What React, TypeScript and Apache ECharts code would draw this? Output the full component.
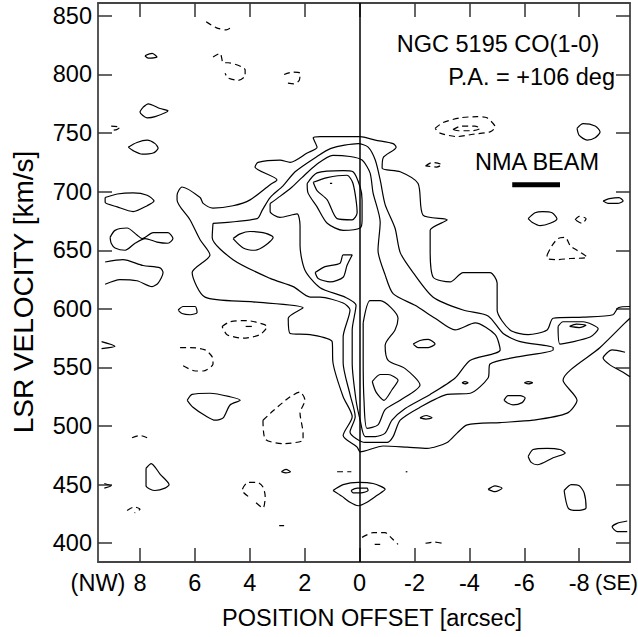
import React, { useEffect, useRef } from "react";
import * as echarts from "echarts";

// ---- axis ranges and ticks ----
const X_MIN = -9.85;
const X_MAX = 9.53;
const Y_MIN = 384;
const Y_MAX = 861;
const xTicks = [8, 6, 4, 2, 0, -2, -4, -6, -8];
const yTicks = [400, 450, 500, 550, 600, 650, 700, 750, 800, 850];

// ---- solid contours: [offset arcsec, velocity km/s] ----
const level1 = [[-9.85,592],[-9.67,588],[-8.76,567],[-7.41,539],[-7.92,522],[-7.56,511],[-6.32,505],[-5.12,503],[-3.92,501],[-3.55,494],[-3.19,486],[-2.46,481],[-1.73,482],[-0.86,483],[-0.02,478],[0.09,482],[0.60,492],[0.27,508],[0.60,525],[0.97,554],[1.00,572],[1.80,578],[2.53,579],[2.60,592],[2.06,601],[3.88,606],[5.63,610],[6.10,631],[5.45,646],[5.81,659],[6.18,676],[6.65,693],[6.65,697],[6.47,704],[5.81,695],[5.70,690],[5.34,686],[4.61,688],[3.99,693],[3.26,706],[3.01,710],[3.81,721],[3.70,725],[2.90,727],[2.53,725],[1.91,733],[1.55,738],[1.69,746],[1.44,747],[-0.02,747],[-0.57,744],[-1.22,741],[-1.33,738],[-0.86,729],[-0.82,720],[-1.48,717],[-2.13,707],[-2.31,680],[-3.19,676],[-2.57,667],[-2.57,650],[-2.68,627],[-3.30,623],[-3.77,631],[-4.75,631],[-5.01,622],[-5.01,599],[-5.48,582],[-6.14,578],[-6.83,582],[-7.05,592],[-8.14,593],[-9.23,595],[-9.42,601],[-9.85,602]];
const level2 = [[5.34,673],[3.73,677],[3.55,684],[3.26,695],[2.79,705],[2.35,717],[1.62,729],[1.04,737],[0.05,741],[-0.31,738],[-0.57,727],[-0.75,710],[-0.93,689],[-1.29,669],[-1.48,648],[-1.95,631],[-2.68,610],[-3.77,599],[-4.68,594],[-5.23,579],[-5.85,572],[-7.05,567],[-7.05,565],[-5.74,559],[-4.75,553],[-4.68,541],[-4.03,528],[-3.19,527],[-2.20,516],[-1.48,505],[-1.22,491],[-1.00,486],[-0.20,486],[0.35,495],[0.16,508],[0.35,527],[0.60,554],[0.60,576],[0.35,599],[0.60,605],[1.44,610],[1.80,610],[2.42,619],[3.26,626],[4.61,642],[5.37,661],[5.34,673]];
const level3 = [[3.26,690],[2.90,696],[2.46,704],[2.10,712],[1.58,723],[0.97,731],[0.35,730],[-0.09,727],[-0.38,716],[-0.49,699],[-0.75,674],[-0.67,650],[-0.93,629],[-1.22,613],[-2.02,603],[-2.75,592],[-3.48,582],[-4.21,588],[-4.94,578],[-5.12,565],[-4.02,556],[-3.48,541],[-2.57,527],[-1.66,515],[-1.18,505],[-0.93,494],[-0.57,491],[-0.20,491],[-0.02,505],[0.13,522],[0.27,554],[0.27,582],[0.13,603],[0.53,610],[1.44,618],[1.99,633],[2.17,654],[2.17,671],[2.28,681],[2.90,678],[3.26,683],[3.26,690]];
const level4 = [[1.91,707],[1.55,716],[0.60,718],[0.24,717],[-0.02,704],[-0.09,693],[-0.09,676],[-0.02,669],[0.60,667],[1.18,673],[1.55,687],[1.88,699],[1.91,707]];
const level5 = [[1.69,708],[1.18,712],[0.46,714],[0.24,707],[0.09,682],[0.27,676],[0.82,677],[1.18,693],[1.55,701],[1.69,708]];
const peakDot = [[1.08,707],[1.0,707]];
const band4 = [[-0.13,588],[-0.38,607],[-0.75,607],[-1.40,592],[-1.29,582],[-0.93,569],[-1.04,556],[-1.66,549],[-2.20,535],[-1.48,522],[-0.93,514],[-0.67,501],[-0.27,498],[-0.16,522],[-0.13,556],[-0.13,588]];
const band5 = [[-0.46,538],[-0.75,544],[-1.04,544],[-1.40,539],[-1.18,531],[-0.89,522],[-0.60,529],[-0.46,538]];
const armBlob = [[-1.95,570],[-2.20,573],[-2.50,574],[-2.75,570],[-2.50,567],[-2.13,567],[-1.95,570]];
const blob680 = [[4.61,660],[4.35,664],[3.99,666],[3.52,665],[3.15,661],[3.44,654],[3.81,650],[4.24,652],[4.61,660]];
const blob635 = [[1.62,631],[1.26,636],[0.71,639],[0.60,646],[0.27,646],[0.46,637],[0.60,627],[1.07,623],[1.51,626],[1.62,631]];
const blobA = [[7.82,816],[7.56,818],[7.38,815],[7.70,814],[7.82,816]];
const blobB = [[7.89,772],[7.70,775],[7.27,771],[6.98,769],[7.45,764],[7.74,763],[8.0,768],[7.89,772]];
const blobC = [[8.43,738],[8.11,742],[7.74,744],[7.45,741],[7.34,737],[7.52,733],[7.92,732],[8.25,735],[8.43,738]];
const blobD = [[9.27,695],[8.83,698],[8.25,699],[7.74,697],[7.49,692],[7.74,688],[8.25,683],[8.83,687],[9.27,691],[9.27,695]];
const blobE = [[9.09,661],[8.91,667],[8.47,669],[8.11,663],[7.92,660],[7.52,665],[6.98,665],[6.80,660],[6.98,656],[7.38,657],[7.81,660],[8.18,656],[8.54,650],[8.91,652],[9.05,656],[9.09,661]];
const blobF = [[9.27,640],[8.62,642],[7.89,637],[7.27,635],[7.16,631],[7.34,622],[7.56,619],[8.11,624],[8.73,625],[9.27,621]];
const blobG = [[6.61,599],[6.43,602],[5.99,602],[5.92,597],[6.17,595],[6.47,596],[6.61,599]];
const blobH = [[9.40,572],[8.91,568],[9.40,566]];
const blobI = [[6.28,522],[6.10,527],[5.45,528],[4.72,525],[4.35,522],[4.72,518],[4.97,507],[5.26,505],[5.63,509],[6.07,516],[6.28,522]];
const blobJ = [[7.78,464],[7.59,468],[7.27,459],[6.94,450],[7.09,447],[7.45,445],[7.78,449],[7.78,464]];
const blobK = [[2.85,461],[2.68,463],[2.52,461],[2.68,460],[2.85,461]];
const eyeOuter = [[0.97,445],[0.60,450],[0.05,452],[-0.49,451],[-0.93,446],[-0.64,441],[-0.27,435],[0.05,432],[0.35,435],[0.64,440],[0.97,445]];
const eyeInner = [[0.31,445],[0.09,447],[-0.27,447],[-0.31,445],[-0.05,443],[0.24,443],[0.31,445]];
const blobL = [[-5.26,522],[-5.41,526],[-5.85,526],[-6.03,524],[-5.92,520],[-5.59,518],[-5.37,520],[-5.26,522]];
const blobM = [[-2.20,507],[-2.42,509],[-2.64,507],[-2.42,506],[-2.20,507]];
const blobN = [[-3.73,537],[-3.84,538],[-3.95,537],[-3.84,536],[-3.73,537]];
const blobO = [[-6.0,537],[-6.15,538],[-6.3,537],[-6.15,536],[-6.0,537]];
const blobP = [[-6.14,474],[-6.32,480],[-6.83,481],[-7.30,480],[-7.49,477],[-7.05,473],[-6.47,467],[-6.25,469],[-6.14,474]];
const blobQ = [[-7.45,445],[-7.71,450],[-8.0,449],[-8.18,443],[-8.25,430],[-7.92,428],[-7.60,430],[-7.45,445]];
const blobR = [[-4.68,446],[-4.93,449],[-5.19,447],[-4.93,444],[-4.68,446]];
const blobS = [[-9.75,419],[-9.38,417],[-9.20,414],[-9.38,410],[-9.75,410]];
const blobT = [[-6.14,677],[-6.39,682],[-6.68,683],[-7.01,682],[-7.19,677],[-6.94,673],[-6.58,671],[-6.28,674],[-6.14,677]];
const blobU = [[-8.87,692],[-9.1,694],[-9.45,695],[-9.60,692],[-9.4,690],[-9.05,690],[-8.87,692]];
const blobV = [[-7.23,585],[-7.41,589],[-8.14,589],[-8.69,583],[-8.40,576],[-7.30,570],[-7.23,585]];
const blobW = [[-7.65,585],[-7.9,587],[-8.25,586],[-8.0,584],[-7.65,585]];
const blobX = [[-9.67,563],[-9.20,565],[-8.87,558],[-9.13,552],[-9.60,546],[-9.85,542]];
const blobY = [[-7.92,754],[-8.14,758],[-8.58,756],[-8.76,751],[-8.58,746],[-8.29,744],[-8.0,748],[-7.92,754]];
const blobZ = [[9.3,451],[9.05,449],[9.3,447]];
const dotA = [[-1.68,461],[-1.74,461]];

// ---- dashed (negative) contours ----
const neg1 = [[-2.75,754],[-3.04,759],[-3.66,763],[-4.28,764],[-4.64,763],[-4.94,755],[-4.75,751],[-4.13,749],[-3.55,747],[-2.93,750],[-2.75,754]];
const neg1b = [[-3.4,753],[-3.7,756],[-4.2,756],[-4.4,754],[-4.1,752],[-3.6,752],[-3.4,753]];
const neg2 = [[-2.4,722],[-2.65,725],[-3.0,723],[-2.8,721],[-2.4,722]];
const neg3 = [[-7.85,676],[-8.0,679],[-8.25,677],[-8.1,673],[-7.85,676]];
const neg4 = [[-6.83,646],[-7.01,654],[-7.23,660],[-7.49,661],[-7.67,654],[-7.92,650],[-8.29,644],[-7.67,643],[-7.19,642],[-6.83,643],[-6.83,646]];
const neg5 = [[5.01,585],[4.72,589],[4.10,590],[3.52,587],[3.37,585],[3.63,578],[4.24,575],[4.83,578],[5.01,585]];
const neg5b = [[4.15,585],[3.9,585]];
const neg6 = [[6.54,567],[6.17,567],[5.63,565],[5.37,559],[5.34,553],[5.70,547],[5.99,547],[6.47,552]];
const neg7 = [[3.52,505],[3.15,513],[2.53,525],[2.17,529],[1.99,522],[2.17,511],[2.06,494],[2.06,488],[2.79,485],[3.44,489],[3.52,505]];
const neg8 = [[4.06,440],[4.28,445],[4.06,452],[3.73,452],[3.52,448],[3.44,440],[3.52,430],[3.84,436]];
const neg9 = [[8.29,490],[8.0,492],[7.74,490]];
const neg10 = [[8.47,428],[8.2,431],[8.0,429],[8.2,426]];
const neg11 = [[9.05,756],[8.73,755],[8.85,753],[9.1,752]];
const neg12 = [[5.59,845],[5.23,840],[4.86,838],[4.68,840]];
const neg13 = [[5.34,815],[5.08,818],[4.97,810],[4.79,810],[4.17,804],[4.17,799],[4.42,795],[4.79,797],[4.90,801]];
const neg14 = [[2.75,800],[2.46,802],[2.17,801],[2.2,795],[2.4,792],[2.7,793]];
const neg15 = [[-0.09,405],[-0.49,409],[-0.93,409],[-1.18,404],[-1.40,399]];
const neg15b = [[-0.55,399],[-0.75,399]];
const neg16 = [[-2.4,400],[-2.7,401],[-3.0,400]];
const neg17 = [[2.93,415],[2.75,415]];
const neg18 = [[0.82,461],[0.30,461]];

const solidContours = [level1, level2, level3, level4, level5, peakDot, band4, band5, armBlob, blob680, blob635,
  blobA, blobB, blobC, blobD, blobE, blobF, blobG, blobH, blobI, blobJ, blobK, eyeOuter, eyeInner,
  blobL, blobM, blobN, blobO, blobP, blobQ, blobR, blobS, blobT, blobU, blobV, blobW, blobX, blobY, blobZ, dotA];
const dashedContours = [neg1, neg1b, neg2, neg3, neg4, neg5, neg5b, neg6, neg7, neg8, neg9, neg10,
  neg11, neg12, neg13, neg14, neg15, neg15b, neg16, neg17, neg18];

// NMA beam bar (offset range at fixed velocity)
const beamX = [-5.56, -7.30];
const beamV = 706;

const FONT = "'Liberation Sans', Arial, Helvetica, sans-serif";

export default function App() {
  const ref = useRef<HTMLDivElement>(null);
  useEffect(() => {
    if (!ref.current) return;
    const chart = echarts.init(ref.current, null, { renderer: "svg" });
    const lineStyleBase = { color: "#000", width: 1.2 };
    const series: any[] = [];
    solidContours.forEach((c) =>
      series.push({
        type: "line", data: c, symbol: "none", smooth: 0.25, silent: true,
        lineStyle: { ...lineStyleBase, type: "solid" }, z: 3,
      })
    );
    dashedContours.forEach((c) =>
      series.push({
        type: "line", data: c, symbol: "none", smooth: 0.25, silent: true,
        lineStyle: { ...lineStyleBase, type: [6, 4] }, z: 3,
      })
    );
    series.push({
      type: "line", data: beamX.map((x) => [x, beamV]), symbol: "none", silent: true,
      lineStyle: { color: "#000", width: 5 }, z: 4,
      markLine: {
        symbol: "none", silent: true, label: { show: false },
        lineStyle: { color: "#000", width: 1.5, type: "solid" },
        data: [{ xAxis: 0 }],
      },
    });
    const tickStyle = { show: true, inside: true, length: 14, lineStyle: { color: "#333", width: 1.5 } };
    const axisLine = { show: true, onZero: false, lineStyle: { color: "#444", width: 1.8 } };
    const textStyle = (size: number) => ({ fontFamily: FONT, fontSize: size, fill: "#000" });
    chart.setOption({
      animation: false,
      grid: { left: 98, top: 3, right: 8, bottom: 75, containLabel: false },
      xAxis: [
        {
          type: "value", min: X_MIN, max: X_MAX, inverse: true, position: "bottom",
          axisLine, splitLine: { show: false },
          axisTick: { ...tickStyle, customValues: xTicks },
          axisLabel: { show: true, customValues: xTicks, margin: 9, color: "#000", fontSize: 23.5, fontFamily: FONT },
        },
        {
          type: "value", min: X_MIN, max: X_MAX, inverse: true, position: "top",
          axisLine, splitLine: { show: false },
          axisTick: { ...tickStyle, customValues: xTicks },
          axisLabel: { show: false },
        },
      ],
      yAxis: [
        {
          type: "value", min: Y_MIN, max: Y_MAX, position: "left",
          axisLine, splitLine: { show: false },
          axisTick: { ...tickStyle, customValues: yTicks },
          axisLabel: { show: true, customValues: yTicks, margin: 6, color: "#000", fontSize: 23.5, fontFamily: FONT },
        },
        {
          type: "value", min: Y_MIN, max: Y_MAX, position: "right",
          axisLine, splitLine: { show: false },
          axisTick: { ...tickStyle, customValues: yTicks },
          axisLabel: { show: false },
        },
      ],
      series,
      graphic: [
        { type: "text", x: 23, y: 292, rotation: Math.PI / 2, style: { ...textStyle(28), text: "LSR VELOCITY [km/s]", align: "center", verticalAlign: "middle", textAlign: "center", textVerticalAlign: "middle" } },
        { type: "text", x: 372, y: 618, style: { ...textStyle(23.5), text: "POSITION OFFSET [arcsec]", align: "center", verticalAlign: "middle", textAlign: "center", textVerticalAlign: "middle" } },
        { type: "text", x: 98, y: 583, style: { ...textStyle(23.5), text: "(NW)", align: "center", verticalAlign: "middle", textAlign: "center", textVerticalAlign: "middle" } },
        { type: "text", x: 595, y: 583, style: { ...textStyle(21.5), text: "(SE)", align: "left", verticalAlign: "middle", textAlign: "left", textVerticalAlign: "middle" } },
        { type: "text", x: 498, y: 44, style: { ...textStyle(23.5), text: "NGC 5195 CO(1-0)", align: "center", verticalAlign: "middle", textAlign: "center", textVerticalAlign: "middle" } },
        { type: "text", x: 615, y: 77, style: { ...textStyle(23.5), text: "P.A. = +106 deg", align: "right", verticalAlign: "middle", textAlign: "right", textVerticalAlign: "middle" } },
        { type: "text", x: 537, y: 162, style: { ...textStyle(23.5), text: "NMA BEAM", align: "center", verticalAlign: "middle", textAlign: "center", textVerticalAlign: "middle" } },
      ],
    });
    return () => chart.dispose();
  }, []);
  return <div ref={ref} style={{ position: "fixed", left: 0, top: 0, width: 638, height: 637, background: "#fff" }} />;
}
